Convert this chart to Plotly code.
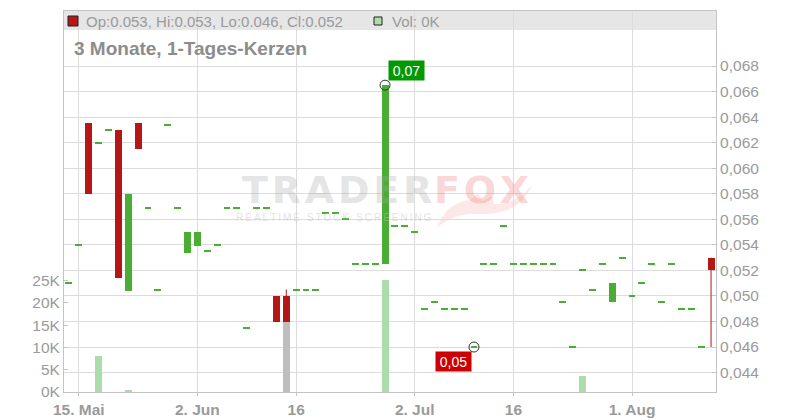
import plotly.graph_objects as go
import numpy as np

# ---------------- data (66 trading days, 14 May .. 13 Aug) ----------------
open_ = [0.051, 0.054, 0.0635, 0.062, 0.063, 0.063, 0.0504, 0.0635, 0.0569, 0.0505,
         0.0634, 0.0569, 0.0534, 0.0539, 0.0535, 0.054, 0.0569, 0.0569, 0.0475, 0.0569,
         0.0569, 0.050, 0.050, 0.0505, 0.0505, 0.0505, 0.0565, 0.0565, 0.056, 0.0525,
         0.0525, 0.0525, 0.0525, 0.0555, 0.0555, 0.055, 0.049, 0.0495, 0.049, 0.049,
         0.049, 0.046, 0.0525, 0.0525, 0.0555, 0.0525, 0.0525, 0.0525, 0.0525, 0.0525,
         0.0495, 0.046, 0.052, 0.0505, 0.0525, 0.0495, 0.053, 0.050, 0.051, 0.0525,
         0.0495, 0.0525, 0.049, 0.049, 0.046, 0.053]
close = [0.051, 0.054, 0.058, 0.062, 0.063, 0.0514, 0.058, 0.0615, 0.0569, 0.0505,
         0.0634, 0.0569, 0.055, 0.055, 0.0535, 0.054, 0.0569, 0.0569, 0.0475, 0.0569,
         0.0569, 0.048, 0.048, 0.0505, 0.0505, 0.0505, 0.0565, 0.0565, 0.056, 0.0525,
         0.0525, 0.0525, 0.0665, 0.0555, 0.0555, 0.055, 0.049, 0.0495, 0.049, 0.049,
         0.049, 0.046, 0.0525, 0.0525, 0.0555, 0.0525, 0.0525, 0.0525, 0.0525, 0.0525,
         0.0495, 0.046, 0.052, 0.0505, 0.0525, 0.051, 0.053, 0.050, 0.051, 0.0525,
         0.0495, 0.0525, 0.049, 0.049, 0.046, 0.052]
high = [max(o, c) for o, c in zip(open_, close)]
low = [min(o, c) for o, c in zip(open_, close)]
high[22] = 0.0505
low[65] = 0.046

volume = [0, 0, 0, 8100, 0, 0, 300, 0, 0, 0,
          0, 0, 0, 0, 0, 0, 0, 0, 0, 0,
          0, 0, 18000, 0, 0, 0, 0, 0, 0, 0,
          0, 0, 25200, 0, 0, 0, 0, 0, 0, 0,
          0, 0, 0, 0, 0, 0, 0, 0, 0, 0,
          0, 0, 3700, 0, 0, 0, 0, 0, 0, 0,
          0, 0, 0, 0, 0, 0]
vol_up = [True] * 66
vol_up[22] = False

x_tickvals = [1, 13, 23, 35, 45, 57]
x_ticktext = ["15. Mai", "2. Jun", "16", "2. Jul", "16", "1. Aug"]
price_ticks = [0.044, 0.046, 0.048, 0.050, 0.052, 0.054, 0.056, 0.058, 0.060,
               0.062, 0.064, 0.066, 0.068]
vol_ticks = [0, 5000, 10000, 15000, 20000, 25000]
vol_ticktext = ["0K", "5K", "10K", "15K", "20K", "25K"]

# ---------------- styling ----------------
RED = "#b51616"
GREEN = "#4aae34"
VOL_GREEN = "#acdcaa"
VOL_GRAY = "#bebebe"
GRID = "#dcdcdc"
FRAME = "#c4c4c4"
TXT = "#9a9a9a"
FONT = "Liberation Sans, Arial, sans-serif"

W, H = 800, 420
L, R, T, B = 64, 84, 11, 28
PW, PH = W - L - R, H - T - B
Y0, Y1 = 0.042481, 0.072305          # price axis range
DOJI_H = (Y1 - Y0) / PH * 1.1         # ~1 px tall dash


def px(xp):
    return (xp - L) / PW


def py(yp):
    return (H - B - yp) / PH


n = len(open_)
idx = np.arange(n)
o = np.array(open_)
c = np.array(close)
hi = np.array(high)
lo = np.array(low)

fig = go.Figure()

# volume (primary y, drawn underneath)
fig.add_trace(go.Bar(
    x=idx, y=volume, width=0.7,
    marker=dict(color=[VOL_GREEN if u else VOL_GRAY for u in vol_up], line=dict(width=0)),
    yaxis="y", hoverinfo="skip", showlegend=False))

# candle bodies (dojis drawn as thin dashes)
body = o != c
heights = np.where(body, np.abs(c - o), DOJI_H)
bases = np.where(body, np.minimum(o, c), o - DOJI_H / 2)
colors = [RED if cc < oo else GREEN for oo, cc in zip(o, c)]
fig.add_trace(go.Bar(
    x=idx, y=heights, base=bases, width=0.7,
    marker=dict(color=colors, line=dict(width=0)),
    yaxis="y2", hoverinfo="skip", showlegend=False))

# wicks
for col, mask in ((RED, c < o), (GREEN, c >= o)):
    wx, wy = [], []
    for i in idx[mask]:
        if hi[i] > lo[i]:
            wx += [i, i, None]
            wy += [lo[i], hi[i], None]
    if wx:
        fig.add_trace(go.Scatter(x=wx, y=wy, mode="lines", line=dict(color=col, width=1),
                                 yaxis="y2", hoverinfo="skip", showlegend=False))

# extreme markers
imax = int(np.argmax(hi))
imin = int(np.argmin(lo))
fig.add_trace(go.Scatter(
    x=[imax, imin], y=[hi[imax], lo[imin]], mode="markers",
    marker=dict(symbol="circle-open", size=10, color="#333333", line=dict(width=1)),
    yaxis="y2", hoverinfo="skip", showlegend=False))

annotations = [
    dict(x=imax, y=hi[imax], xref="x", yref="y2", text=f"{hi[imax]:.2f}".replace(".", ","),
         showarrow=False, xanchor="left", yanchor="bottom", xshift=3, yshift=4,
         bgcolor="#009900", width=35, height=19, borderpad=0,
         font=dict(family=FONT, size=14, color="white")),
    dict(x=imin, y=lo[imin], xref="x", yref="y2", text=f"{lo[imin]:.2f}".replace(".", ","),
         showarrow=False, xanchor="right", yanchor="top", xshift=-2, yshift=-4,
         bgcolor="#cc0000", width=35, height=19, borderpad=0,
         font=dict(family=FONT, size=14, color="white")),
    # header legend
    dict(x=px(84), y=py(21.5), xref="paper", yref="paper", showarrow=False,
         xanchor="left", yanchor="middle",
         text=f"Op:{open_[-1]:.3f}, Hi:{high[-1]:.3f}, Lo:{low[-1]:.3f}, Cl:{close[-1]:.3f}",
         font=dict(family=FONT, size=15, color=TXT)),
    dict(x=px(390), y=py(21.5), xref="paper", yref="paper", showarrow=False,
         xanchor="left", yanchor="middle", text=f"Vol: {volume[-1] / 1000:.0f}K",
         font=dict(family=FONT, size=15, color=TXT)),
    dict(x=px(72), y=py(48), xref="paper", yref="paper", showarrow=False,
         xanchor="left", yanchor="middle", text="3 Monate, 1-Tages-Kerzen",
         font=dict(family=FONT, size=19, color="#8c8c8c", weight="bold")),
    # watermark
    dict(x=px(337), y=py(190), xref="paper", yref="paper", showarrow=False,
         xanchor="center", yanchor="middle", text="\u200a".join("TRADER"),
         font=dict(family="DejaVu Sans, sans-serif", size=38,
                   color="rgba(165,165,165,0.30)", weight="bold")),
    dict(x=px(481), y=py(190), xref="paper", yref="paper", showarrow=False,
         xanchor="center", yanchor="middle", text="\u200a".join("FOX"),
         font=dict(family="DejaVu Sans, sans-serif", size=38,
                   color="rgba(240,100,100,0.27)", weight="bold")),
    dict(x=px(334), y=py(218), xref="paper", yref="paper", showarrow=False,
         xanchor="center", yanchor="middle", text="\u2009".join("REALTIME STOCK SCREENING"),
         font=dict(family=FONT, size=10, color="rgba(190,190,190,0.45)")),
]

shapes = [
    dict(type="rect", xref="paper", yref="paper", x0=0, x1=1, y0=py(30), y1=1,
         fillcolor="#e6e6e6", line=dict(width=0), layer="below"),
    dict(type="rect", xref="paper", yref="paper", x0=px(68), x1=px(78), y0=py(26), y1=py(16),
         fillcolor=RED, line=dict(color="#222222", width=1)),
    dict(type="rect", xref="paper", yref="paper", x0=px(374), x1=px(382), y0=py(25), y1=py(17),
         fillcolor=VOL_GREEN, line=dict(color="#222222", width=1)),
    # fox tail swoosh of the watermark
    dict(type="path", xref="paper", yref="paper", layer="below",
         path=(f"M {px(437)},{py(228)} Q {px(445)},{py(203)} {px(470)},{py(200)} "
               f"L {px(478)},{py(193)} L {px(482)},{py(201)} L {px(492)},{py(196)} "
               f"L {px(494)},{py(204)} Q {px(515)},{py(205)} {px(532)},{py(185)} "
               f"Q {px(520)},{py(215)} {px(480)},{py(214)} Q {px(455)},{py(212)} "
               f"{px(437)},{py(228)} Z"),
         fillcolor="rgba(248,150,150,0.22)", line=dict(width=0)),
]

fig.update_layout(
    width=W, height=H, autosize=False,
    margin=dict(l=L, r=R, t=T, b=B, pad=0, autoexpand=False),
    paper_bgcolor="white", plot_bgcolor="white",
    separators=",.",
    font=dict(family=FONT, size=15, color=TXT),
    showlegend=False, bargap=0,
    xaxis=dict(range=[-0.5, n - 0.5], tickmode="array", tickvals=x_tickvals, ticktext=x_ticktext,
               showgrid=True, gridcolor=GRID, gridwidth=1, zeroline=False,
               showline=True, linecolor=FRAME, linewidth=1, mirror=True,
               ticks="outside", ticklen=3, tickcolor=FRAME, automargin=False,
               tickfont=dict(family=FONT, size=15.5, color=TXT, weight="bold")),
    yaxis=dict(range=[0, 85580], tickmode="array", tickvals=vol_ticks, ticktext=vol_ticktext,
               showgrid=False, zeroline=False, showline=True, linecolor=FRAME, linewidth=1,
               ticks="inside", ticklen=4, tickcolor=FRAME, side="left", automargin=False,
               tickfont=dict(family=FONT, size=15.5, color=TXT)),
    yaxis2=dict(range=[Y0, Y1], overlaying="y", side="right",
                tickmode="array", tickvals=price_ticks, tickformat=".3f",
                showgrid=True, gridcolor=GRID, gridwidth=1, zeroline=False,
                showline=True, linecolor=FRAME, linewidth=1, automargin=False,
                ticks="inside", ticklen=4, tickcolor=FRAME,
                tickfont=dict(family=FONT, size=15.5, color=TXT)),
    annotations=annotations,
    shapes=shapes,
)

fig.write_html(
    "out.html",
    config={"displayModeBar": False},
    post_script="document.body.style.margin='0';document.body.style.overflow='hidden';",
)
